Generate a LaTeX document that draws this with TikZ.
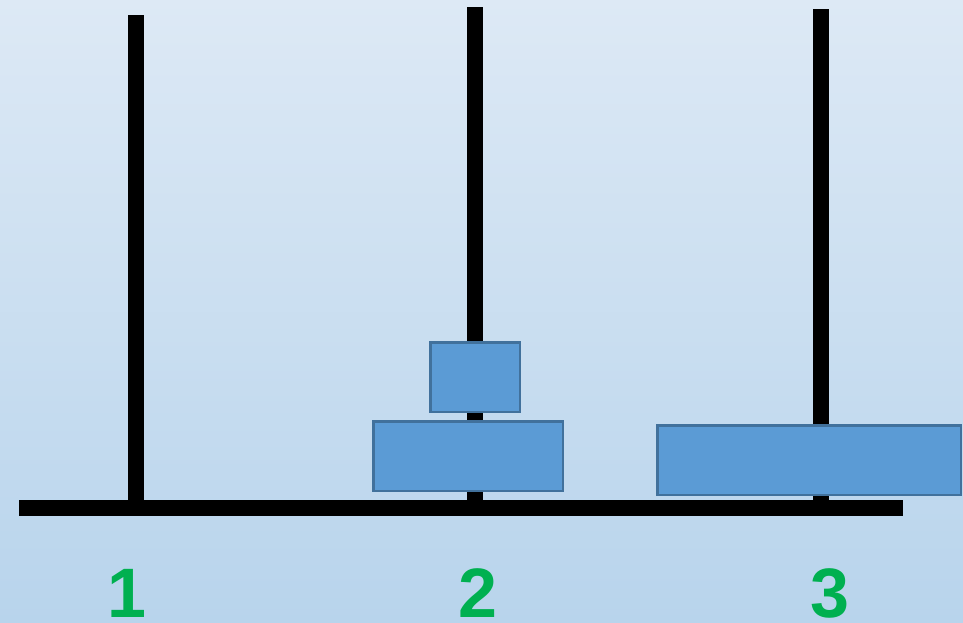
\documentclass[tikz,border=0pt]{standalone}
\usepackage{fontspec}
\setmainfont{Liberation Sans}
\usetikzlibrary{positioning}

\definecolor{bgtop}{HTML}{DDE9F5}
\definecolor{bgbottom}{HTML}{B8D4EC}
\definecolor{diskfill}{HTML}{5B9BD5}
\definecolor{diskline}{HTML}{41719C}
\definecolor{labelgreen}{HTML}{00B050}

\begin{document}
\begin{tikzpicture}[
  x=1pt, y=-1pt,
  peg/.style={fill=black, draw=none},
  disk/.style={draw=diskline, line width=2.5pt, fill=diskfill, inner sep=0pt},
  num/.style={text=labelgreen, font=\fontsize{70}{70}\selectfont\bfseries, anchor=base, inner sep=0pt}
]
% background
\shade[top color=bgtop, bottom color=bgbottom] (0,0) rectangle (963,623);
\useasboundingbox (0,0) rectangle (963,623);

% pegs and base
\fill[peg] (128,15) rectangle (144,500);
\fill[peg] (467,7) rectangle (483,500);
\fill[peg] (813,9) rectangle (829,500);
\fill[peg] (19,500) rectangle (903,516);

% disks
\node[disk, minimum width=89.5pt, minimum height=69.5pt] (small) at (475,377) {};
\node[disk, minimum width=189.5pt, minimum height=69.5pt] (middle) at (468,456) {};
\node[disk, minimum width=303.5pt, minimum height=69.5pt] (large) at (809,460) {};

% peg numbers
\node[num] (one) at (127,617) {1};
\node[num] (two) at (478,617) {2};
\node[num] (three) at (830,617) {3};
\end{tikzpicture}
\end{document}
